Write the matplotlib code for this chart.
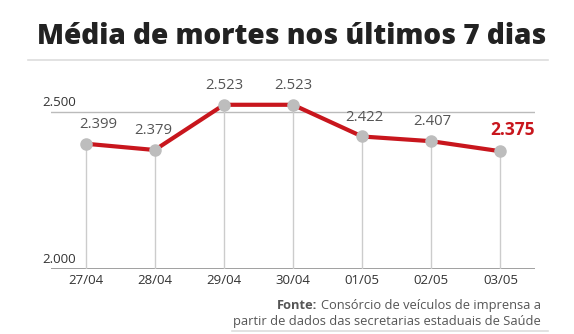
import matplotlib
matplotlib.use("Agg")
import matplotlib.pyplot as plt
from matplotlib.lines import Line2D

dates = ["27/04", "28/04", "29/04", "30/04", "01/05", "02/05", "03/05"]
values = [2399, 2379, 2523, 2523, 2422, 2407, 2375]
value_labels = ["2.399", "2.379", "2.523", "2.523", "2.422", "2.407", "2.375"]
yticks = [2000, 2500]
ytick_labels = ["2.000", "2.500"]
title = "Média de mortes nos últimos 7 dias"
source_bold = "Fonte:"
source_line1 = "Consórcio de veículos de imprensa a"
source_line2 = "partir de dados das secretarias estaduais de Saúde"

W, H = 574, 334
DPI = 100
plt.rcParams['font.family'] = ['Open Sans', 'DejaVu Sans']

fig = plt.figure(figsize=(W / DPI, H / DPI), dpi=DPI)
fig.patch.set_facecolor("white")

def fx(px):
    return px / W

def fy(py):
    return 1 - py / H

# Title
fig.text(fx(292), fy(37), title, ha="center", va="center", fontsize=20.2,
         fontweight="heavy", color="#222222")
fig.add_artist(Line2D([fx(28), fx(548)], [fy(59.5), fy(59.5)], color="#dddddd", lw=1.2))

# Axes
left, right = 51, 535
bottom_px = 269
ymin, ymax = 2000, 2600
scale = 157 / 500
top_px = bottom_px - (ymax - ymin) * scale
ax = fig.add_axes([fx(left), fy(bottom_px), fx(right - left), (bottom_px - top_px) / H])
ax.set_xlim(-0.5, 6.5)
ax.set_ylim(ymin, ymax)
ax.axis("off")

x = list(range(len(dates)))
red = "#c8161d"
gray_text = "#555555"

ax.axhline(2500, color="#bbbbbb", lw=1, zorder=1)
ax.axhline(2000, color="#999999", lw=1.3, zorder=1)
ax.vlines(x, 2000, values, color="#cccccc", lw=1, zorder=1)
ax.plot(x, values, color=red, lw=3, zorder=2, solid_capstyle="round")
ax.plot(x, values, "o", color="#bdbdbd", markersize=8, zorder=3)

# value labels
offsets_x = [9, -1, 0, 0, 2, 1, 9]
for i, (xi, v, lab) in enumerate(zip(x, values, value_labels)):
    if i == len(values) - 1:
        ax.annotate(lab, (xi, v), xytext=(offsets_x[i], 15.5), textcoords="offset points",
                    ha="center", va="center", fontsize=12.5, fontweight="bold", color=red)
    else:
        ax.annotate(lab, (xi, v), xytext=(offsets_x[i], 14), textcoords="offset points",
                    ha="center", va="center", fontsize=10.7, color=gray_text)

# y tick labels
for yt, lab in zip(yticks, ytick_labels):
    fig.text(fx(42), fy(bottom_px - (yt - ymin) * scale - 9.5), lab, ha="left", va="center",
             fontsize=9.5, color="#333333")

# x tick labels
for xi, d in zip(x, dates):
    ax.annotate(d, (xi, ymin), xytext=(0, -8), textcoords="offset points",
                ha="center", va="center", fontsize=9.5, color="#333333")

# source
t1 = fig.text(fx(541), fy(309), source_line1, ha="right", va="baseline", fontsize=9.3, color=gray_text)
fig.canvas.draw()
bb = t1.get_window_extent()
fig.text((bb.x0 - 3.5) / W, fy(309), source_bold, ha="right", va="baseline", fontsize=9.3,
         fontweight="bold", color=gray_text)
fig.text(fx(541), fy(325), source_line2, ha="right", va="baseline", fontsize=9.3, color=gray_text)
fig.add_artist(Line2D([fx(232), fx(548)], [fy(331), fy(331)], color="#dddddd", lw=1.2))

fig.savefig("out.png", dpi=DPI, facecolor="white")
